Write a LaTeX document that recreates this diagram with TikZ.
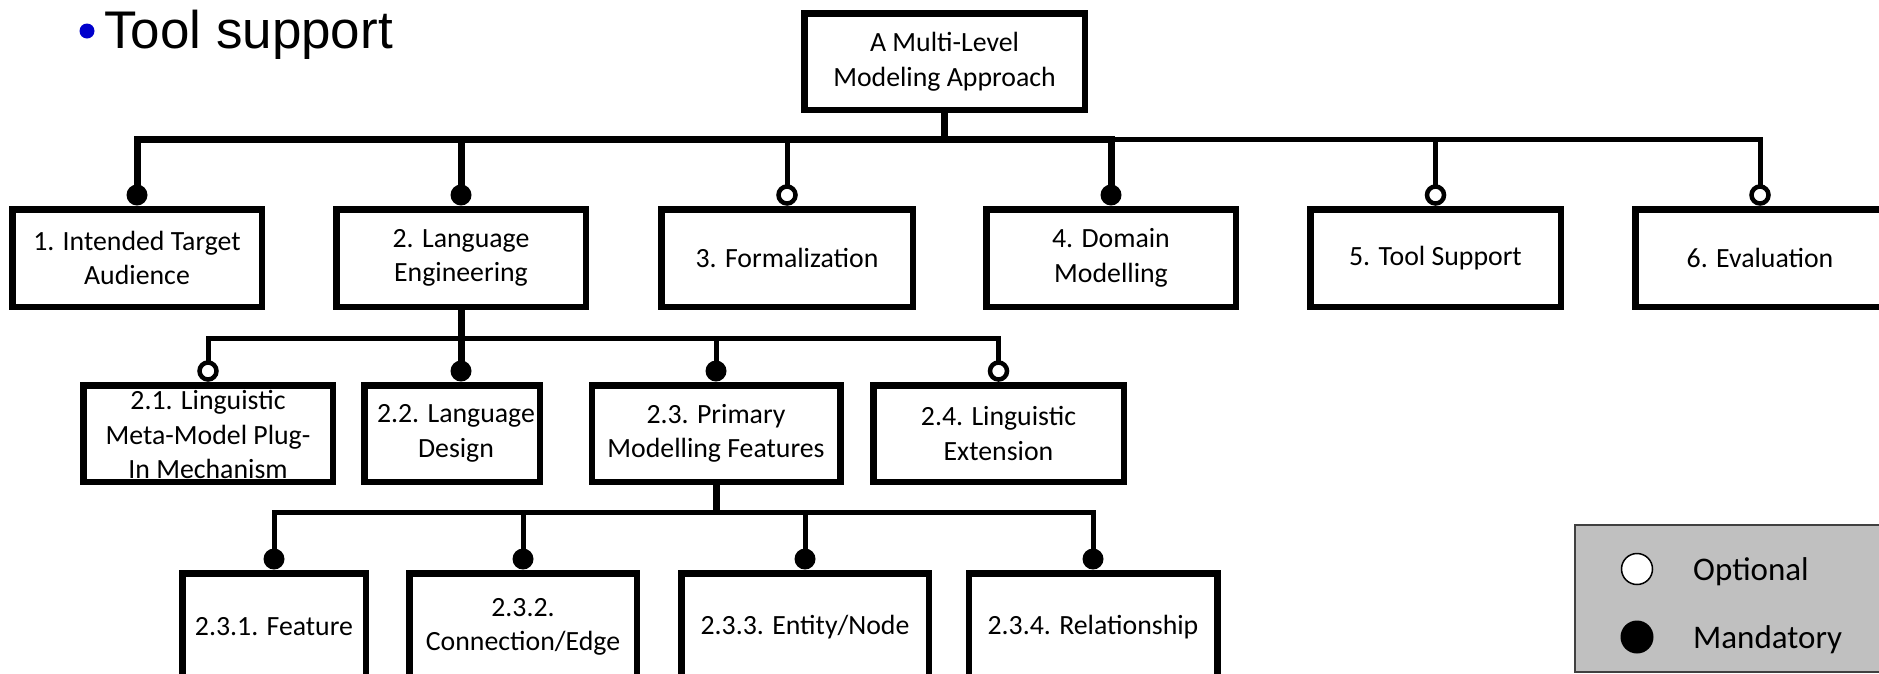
\documentclass[tikz,border=0pt]{standalone}
\usepackage{fontspec}
\setmainfont{Carlito}
\newfontfamily\arialfont{Liberation Sans}
\usetikzlibrary{calc}
\definecolor{bulletblue}{RGB}{0,0,204}
\definecolor{legendgray}{RGB}{192,192,192}
\pgfdeclarelayer{bg}
\pgfsetlayers{bg,main}
\begin{document}
\begin{tikzpicture}[x=1pt,y=-1pt,
  box/.style={draw=black, line width=6.5pt, fill=white, inner sep=0pt, align=center,
    font=\fontsize{27.8}{34.5}\selectfont},
  boxtext/.style={inner sep=0pt, align=center, font=\fontsize{27.8}{34.5}\selectfont},
  thickc/.style={line width=7pt},
  thinc/.style={line width=5pt},
  opt/.style={circle, draw=black, fill=white, line width=4.5pt, minimum size=17pt, inner sep=0pt},
  mand/.style={circle, fill=black, minimum size=21pt, inner sep=0pt},
]
\useasboundingbox (0,0) rectangle (1879,673);
\clip (0,0) rectangle (1879,673);

% title
\node[circle, fill=bulletblue, minimum size=15pt, inner sep=0pt] (bullet) at (87,31) {};
\node[anchor=base west, inner sep=0pt, font=\arialfont\fontsize{53}{60}\selectfont] (title) at (104,48) {Tool support};

% root
\node[box, minimum width=280.5pt, minimum height=96.5pt] (top) at (944.5,61.5) {A Multi-Level\\Modeling Approach};

% level 1
\node[box, minimum width=249.5pt, minimum height=97.5pt] (b1) at (137,258) {1. Intended Target\\Audience};
\node[box, minimum width=249.5pt, minimum height=97.5pt] (b2) at (461,258) {2. Language\\Engineering};
\node[box, minimum width=251.5pt, minimum height=97.5pt] (b3) at (787,258) {3. Formalization};
\node[box, minimum width=249.5pt, minimum height=97.5pt] (b4) at (1111,258) {4. Domain\\Modelling};
\node[box, minimum width=250.5pt, minimum height=97.5pt] (b5) at (1435.5,258) {5. Tool Support};
\node[box, minimum width=249.5pt, minimum height=97.5pt] (b6) at (1760,258) {6. Evaluation};

% level 2
\node[box, minimum width=249.5pt, minimum height=96.5pt] (b21) at (208,433.5) {};
\node[boxtext, anchor=south] (t21) at (208,479) {2.1. Linguistic\\Meta-Model Plug-\\In Mechanism};
\node[box, minimum width=175.5pt, minimum height=96.5pt] (b22) at (452,433.5) {};
\node[boxtext] (t22) at (456,433.5) {2.2. Language\\Design};
\node[box, minimum width=248.5pt, minimum height=96.5pt] (b23) at (716,433.5) {2.3. Primary\\Modelling Features};
\node[box, minimum width=250.5pt, minimum height=96.5pt] (b24) at (998.5,433.5) {2.4. Linguistic\\Extension};

% level 3
\node[box, minimum width=183.5pt, minimum height=107.5pt] (b231) at (274,627) {2.3.1. Feature};
\node[box, minimum width=227.5pt, minimum height=107.5pt] (b232) at (523,627) {2.3.2.\\Connection/Edge};
\node[box, minimum width=247.5pt, minimum height=107.5pt] (b233) at (805,627) {2.3.3. Entity/Node};
\node[box, minimum width=248.5pt, minimum height=107.5pt] (b234) at (1093,627) {2.3.4. Relationship};

% markers
\node[mand] (m1) at ($(b1.north)+(0,-11)$) {};
\node[mand] (m2) at ($(b2.north)+(0,-11)$) {};
\node[opt]  (m3) at ($(b3.north)+(0,-11)$) {};
\node[mand] (m4) at ($(b4.north)+(0,-11)$) {};
\node[opt]  (m5) at ($(b5.north)+(0,-11)$) {};
\node[opt]  (m6) at ($(b6.north)+(0,-11)$) {};

\node[opt]  (m21) at ($(b21.north)+(0,-11)$) {};
\node[mand] (m22) at ($(b22.north -| b2.south)+(0,-11)$) {};
\node[mand] (m23) at ($(b23.north)+(0,-11)$) {};
\node[opt]  (m24) at ($(b24.north)+(0,-11)$) {};

\node[mand] (m231) at ($(b231.north)+(0,-11)$) {};
\node[mand] (m232) at ($(b232.north)+(0,-11)$) {};
\node[mand] (m233) at ($(b233.north)+(0,-11)$) {};
\node[mand] (m234) at ($(b234.north)+(0,-11)$) {};

\coordinate (bar1) at (0,139);
\coordinate (bar2) at (0,338);
\coordinate (bar3) at (0,512);

\begin{pgfonlayer}{bg}
  % level 1
  \draw[thickc] (top.south) -- (top.south |- bar1);
  \draw[thickc] (m1.center) -- (m1 |- bar1) -- (m4 |- bar1) -- (m4.center);
  \draw[thickc] (m2 |- bar1) -- (m2.center);
  \draw[thinc] (m3 |- bar1) -- (m3.center);
  \draw[thinc] (m4 |- bar1) -- (m6 |- bar1) -- (m6.center);
  \draw[thinc] (m5 |- bar1) -- (m5.center);
  % level 2
  \draw[thickc] (b2.south) -- (m22.center);
  \draw[thinc] (m21.center) -- (m21 |- bar2) -- (m24 |- bar2) -- (m24.center);
  \draw[thinc] (m23 |- bar2) -- (m23.center);
  % level 3
  \draw[thickc] (b23.south) -- (b23.south |- bar3);
  \draw[thinc] (m231.center) -- (m231 |- bar3) -- (m234 |- bar3) -- (m234.center);
  \draw[thinc] (m232 |- bar3) -- (m232.center);
  \draw[thinc] (m233 |- bar3) -- (m233.center);
\end{pgfonlayer}

% legend
\node[draw=black!75, line width=2pt, fill=legendgray, anchor=north west,
  minimum width=325pt, minimum height=147pt, inner sep=0pt] (legend) at (1574,524) {};
\node[circle, draw=black, fill=white, line width=1.5pt, minimum size=31pt, inner sep=0pt] (lo) at (1637,569) {};
\node[circle, fill=black, minimum size=33pt, inner sep=0pt] (lm) at (1637,637) {};
\node[anchor=base west, inner sep=0pt, font=\fontsize{33}{38}\selectfont] (lot) at (1693,580) {Optional};
\node[anchor=base west, inner sep=0pt, font=\fontsize{33}{38}\selectfont] (lmt) at (1693,648) {Mandatory};
\end{tikzpicture}
\end{document}
